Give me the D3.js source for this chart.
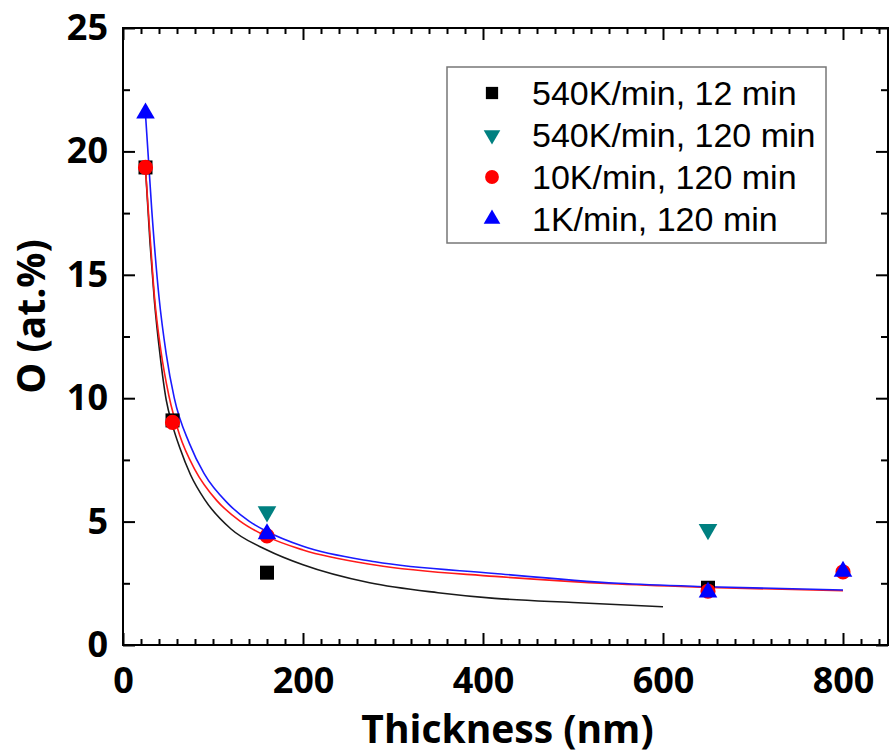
<!DOCTYPE html>
<meta charset="utf-8">
<style>
    body { margin: 0; background: #fff; }
    .tick text { font-family: "Open Sans", sans-serif; font-weight: bold; font-size: 36px; fill: #000; }
    .axis path, .axis line { stroke: #000; stroke-width: 2; }
    .fit { fill: none; stroke-width: 1.6; }
    .title { font-family: "Open Sans", sans-serif; font-weight: bold; font-size: 39px; }
    .legend text { font-family: "Liberation Sans", Arial, sans-serif; font-size: 34px; }
</style>
<body>

<script src="https://d3js.org/d3.v7.min.js"></script>
<script>
    // measured points, thickness (nm) vs O (at.%)
    var black540_12 = [[25, 19.35], [55, 9.1], [160, 2.93], [650, 2.32]];
    var teal540_120 = [[160, 5.4], [650, 4.68]];
    var red10_120 = [[25, 19.35], [55, 9.02], [160, 4.42], [650, 2.18], [800, 2.96]];
    var blue1_120 = [[25, 21.55], [160, 4.5], [650, 2.14], [800, 2.98]];

    // fitted curves
    var fitBlack = [[25, 19.3], [30, 16.3], [35, 13.9], [41, 11.8], [48, 9.93], [55, 8.9], [63, 8.0],
        [75, 6.9], [91, 5.88], [120, 4.7], [160, 3.85], [200, 3.25], [274, 2.52], [350, 2.12],
        [413, 1.89], [500, 1.72], [600, 1.55]];
    var fitRed = [[25, 19.3], [30, 16.6], [35, 14.1], [42, 11.95], [51, 10.1], [63, 8.5], [80, 7.1],
        [104, 5.86], [130, 5.02], [160, 4.39], [200, 3.85], [280, 3.24], [413, 2.78], [550, 2.47],
        [650, 2.33], [800, 2.2]];
    var fitBlue = [[25, 21.5], [32, 17.6], [40, 14.1], [48, 11.8], [57, 10.0], [74, 8.15], [90, 6.95],
        [117, 5.72], [140, 5.02], [160, 4.6], [200, 4.0], [280, 3.37], [413, 2.9], [550, 2.5],
        [650, 2.36], [800, 2.23]];

    var xMajor = [0, 200, 400, 600, 800];
    var yMajor = [0, 5, 10, 15, 20, 25];
    var legendLabels = ["540K/min, 12 min", "540K/min, 120 min", "10K/min, 120 min", "1K/min, 120 min"];

    var W = 889, H = 756;
    var pL = 123, pR = 888, pT = 28, pB = 645;

    var svg = d3.select("body").append("svg")
        .attr("width", W)
        .attr("height", H);

    var x = d3.scaleLinear().domain([0, 850]).range([pL, pR]);
    var y = d3.scaleLinear().domain([0, 25]).range([pB, pT]);

    var xMinor = d3.range(0, 851, 20).filter(v => v % 200 != 0);
    var yMinor = d3.range(2.5, 25, 5);

    function noLabels(a) { return a.tickFormat(""); }

    // frame
    svg.append("rect")
        .attr("x", pL).attr("y", pT)
        .attr("width", pR - pL).attr("height", pB - pT)
        .attr("fill", "none").attr("stroke", "#000").attr("stroke-width", 2);

    svg.append("g").attr("class", "axis")
        .attr("transform", "translate(0," + pB + ")")
        .call(d3.axisBottom(x).tickValues(xMajor).tickSize(-12).tickPadding(22).tickFormat(d3.format("d")));
    svg.append("g").attr("class", "axis")
        .attr("transform", "translate(0," + pB + ")")
        .call(noLabels(d3.axisBottom(x).tickValues(xMinor).tickSize(-6)));
    svg.append("g").attr("class", "axis")
        .attr("transform", "translate(0," + pT + ")")
        .call(noLabels(d3.axisTop(x).tickValues(xMajor).tickSize(-12)));
    svg.append("g").attr("class", "axis")
        .attr("transform", "translate(0," + pT + ")")
        .call(noLabels(d3.axisTop(x).tickValues(xMinor).tickSize(-6)));

    svg.append("g").attr("class", "axis")
        .attr("transform", "translate(" + pL + ",0)")
        .call(d3.axisLeft(y).tickValues(yMajor).tickSize(-12).tickPadding(15).tickFormat(d3.format("d")));
    svg.append("g").attr("class", "axis")
        .attr("transform", "translate(" + pL + ",0)")
        .call(noLabels(d3.axisLeft(y).tickValues(yMinor).tickSize(-7)));
    svg.append("g").attr("class", "axis")
        .attr("transform", "translate(" + pR + ",0)")
        .call(noLabels(d3.axisRight(y).tickValues(yMajor).tickSize(-12)));
    svg.append("g").attr("class", "axis")
        .attr("transform", "translate(" + pR + ",0)")
        .call(noLabels(d3.axisRight(y).tickValues(yMinor).tickSize(-7)));

    svg.selectAll(".axis .domain").remove();

    // fitted curves
    var line = d3.line()
        .x(d => x(d[0]))
        .y(d => y(d[1]))
        .curve(d3.curveMonotoneX);

    svg.append("path").datum(fitBlack).attr("class", "fit").attr("stroke", "#1a1a1a").attr("d", line);
    svg.append("path").datum(fitRed).attr("class", "fit").attr("stroke", "#ff1a1a").attr("d", line);
    svg.append("path").datum(fitBlue).attr("class", "fit").attr("stroke", "#1a1aff").attr("d", line);

    // markers
    var sym = {
        square: d3.symbol().type(d3.symbolSquare).size(196),
        down: d3.symbol().type(d3.symbolTriangle).size(150),
        circle: d3.symbol().type(d3.symbolCircle).size(180),
        up: d3.symbol().type(d3.symbolTriangle).size(150)
    };
    var series = [
        {data: black540_12, shape: "square", color: "#000", rot: 0},
        {data: teal540_120, shape: "down", color: "#008080", rot: 180},
        {data: red10_120, shape: "circle", color: "#ff0000", rot: 0},
        {data: blue1_120, shape: "up", color: "#0000ff", rot: 0}
    ];

    series.forEach(s => {
        svg.append("g").selectAll("path")
            .data(s.data)
            .join("path")
            .attr("d", sym[s.shape])
            .attr("fill", s.color)
            .attr("transform", d => "translate(" + x(d[0]) + "," + y(d[1]) + ") rotate(" + s.rot + ")");
    });

    // axis titles
    svg.append("text").attr("class", "title")
        .attr("x", (pL + pR) / 2 + 2).attr("y", 743)
        .attr("text-anchor", "middle")
        .text("Thickness (nm)");
    svg.append("text").attr("class", "title")
        .attr("transform", "translate(45," + ((pT + pB) / 2 - 20) + ") rotate(-90)")
        .attr("text-anchor", "middle")
        .text("O (at.%)");

    // legend
    var legend = svg.append("g").attr("class", "legend");
    legend.append("rect")
        .attr("x", 447).attr("y", 67).attr("width", 379).attr("height", 176)
        .attr("fill", "#fff").attr("stroke", "#777").attr("stroke-width", 1.5);

    var legendSym = [
        d3.symbol().type(d3.symbolSquare).size(150),
        d3.symbol().type(d3.symbolTriangle).size(120),
        d3.symbol().type(d3.symbolCircle).size(150),
        d3.symbol().type(d3.symbolTriangle).size(120)
    ];

    legendLabels.forEach((label, i) => {
        var row = legend.append("g").attr("transform", "translate(492," + (93 + i * 42) + ")");
        row.append("path")
            .attr("d", legendSym[i])
            .attr("fill", series[i].color)
            .attr("transform", "rotate(" + series[i].rot + ")");
        row.append("text").attr("x", 40).attr("y", 12).text(label);
    });
</script>

</body>
</html>
